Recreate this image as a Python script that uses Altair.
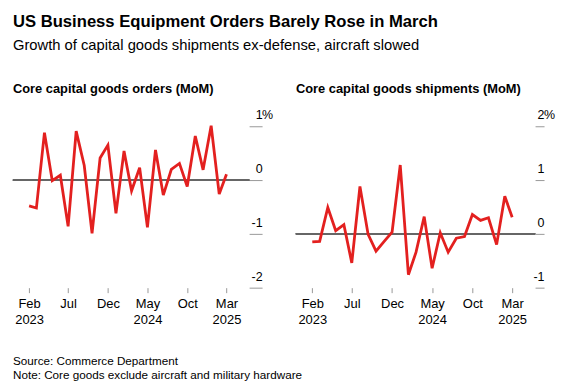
import altair as alt
import pandas as pd

months = [
    "2023-02-01", "2023-03-01", "2023-04-01", "2023-05-01", "2023-06-01", "2023-07-01",
    "2023-08-01", "2023-09-01", "2023-10-01", "2023-11-01", "2023-12-01",
    "2024-01-01", "2024-02-01", "2024-03-01", "2024-04-01", "2024-05-01", "2024-06-01",
    "2024-07-01", "2024-08-01", "2024-09-01", "2024-10-01", "2024-11-01", "2024-12-01",
    "2025-01-01", "2025-02-01", "2025-03-01",
]
orders = [
    -0.48, -0.52, 0.88, -0.01, 0.09, -0.86, 0.91, 0.27, -0.99, 0.41, 0.65,
    -0.62, 0.54, -0.20, 0.23, -0.88, 0.56, -0.28, 0.20, 0.31, -0.12, 0.82, 0.19,
    1.01, -0.26, 0.11,
]
shipments = [
    -0.15, -0.14, 0.49, 0.06, 0.17, -0.54, 0.88, -0.01, -0.32, -0.14, 0.03,
    1.28, -0.76, -0.34, 0.32, -0.64, 0.02, -0.34, -0.08, -0.05, 0.36, 0.25, 0.30,
    -0.20, 0.70, 0.31,
]
orders_ticks = [-2, -1, 0, 1]
shipments_ticks = [-1, 0, 1, 2]
x_tick_dates = [(2023, 2), (2023, 7), (2023, 12), (2024, 5), (2024, 10), (2025, 3)]

title = "US Business Equipment Orders Barely Rose in March"
subtitle = "Growth of capital goods shipments ex-defense, aircraft slowed"
panel_titles = ["Core capital goods orders (MoM)", "Core capital goods shipments (MoM)"]
footer_lines = ["Source: Commerce Department", "Note: Core goods exclude aircraft and military hardware"]
unit_suffix = "%"

FONT = "Liberation Sans"
RED = "#e3201f"
LABEL_UP = -7.5

df = pd.DataFrame({"month": months, "orders": orders, "shipments": shipments})

x_scale = alt.Scale(
    type="utc",
    domain=[alt.DateTime(year=2022, month=12, date=1, utc=True),
            alt.DateTime(year=2025, month=5, date=27, utc=True)],
)
x_axis = alt.Axis(
    title=None,
    values=[alt.DateTime(year=y, month=m, date=1, utc=True) for y, m in x_tick_dates],
    labelExpr="(datum.index == 0 || utcmonth(datum.value) < 5) ? [utcFormat(datum.value, '%b'), utcFormat(datum.value, '%Y')] : utcFormat(datum.value, '%b')",
    domain=False,
    grid=False,
    tickSize=5,
    tickColor="#999999",
    labelPadding=5,
    labelFontSize=13,
    labelColor="#000000",
    labelLineHeight=15.5,
    labelFont=FONT,
)


def panel(field, ticks, ptitle, width, tick_len, extra=None):
    top = max(ticks)
    y_axis = alt.Axis(
        title=None,
        orient="right",
        values=ticks,
        labelExpr="toString(datum.value)",
        domain=False,
        grid=False,
        tickSize=tick_len,
        tickColor="#999999",
        labelAlign="right",
        labelBaseline="alphabetic",
        labelOffset=LABEL_UP,
        labelPadding=0,
        labelFontSize=12.5,
        labelColor="#000000",
        labelFont=FONT,
    )
    base = alt.Chart(df)
    line = base.mark_line(color=RED, strokeWidth=2.8).encode(
        x=alt.X("month:T", scale=x_scale, axis=x_axis),
        y=alt.Y(f"{field}:Q", scale=alt.Scale(domain=[min(ticks), max(ticks)], nice=False), axis=y_axis),
    )
    zero = base.mark_rule(color="#666666", strokeWidth=1).encode(y=alt.datum(0))
    pct = alt.Chart(pd.DataFrame({"s": [unit_suffix]})).mark_text(
        align="left", baseline="alphabetic", fontSize=12.5, font=FONT, color="#000000", dy=LABEL_UP,
    ).encode(text="s:N", y=alt.datum(top), x=alt.value(width + tick_len))
    layers = [zero, line, pct]
    if extra is not None:
        layers.append(extra)
    return alt.layer(*layers).properties(
        width=width,
        height=162,
        title=alt.TitleParams(
            ptitle, anchor="start", frame="group", fontSize=12.9, fontWeight="bold",
            font=FONT, color="#000000", offset=13,
        ),
    )


footer = alt.Chart(pd.DataFrame({"note": ["\n".join(footer_lines)]})).mark_text(
    lineBreak="\n", align="left", baseline="alphabetic", fontSize=11.75, font=FONT,
    color="#000000", lineHeight=13.3,
).encode(text="note:N", x=alt.value(0), y=alt.value(240))

left = panel("orders", orders_ticks, panel_titles[0], 237, 13, footer)
right = panel("shipments", shipments_ticks, panel_titles[1], 240, 9)

chart = alt.hconcat(left, right, spacing=47, bounds="flush").properties(
    title=alt.TitleParams(
        title, subtitle=subtitle, anchor="start", frame="group", fontSize=16.7, fontWeight="bold",
        font=FONT, color="#000000", subtitleFont=FONT, subtitleFontSize=14.8,
        subtitleColor="#000000", subtitlePadding=7, offset=30,
    ),
    padding={"left": 4, "top": 5, "right": 0, "bottom": 5},
).configure_view(stroke="transparent")

chart.save("out.html", embed_options={"renderer": "svg", "actions": False})
